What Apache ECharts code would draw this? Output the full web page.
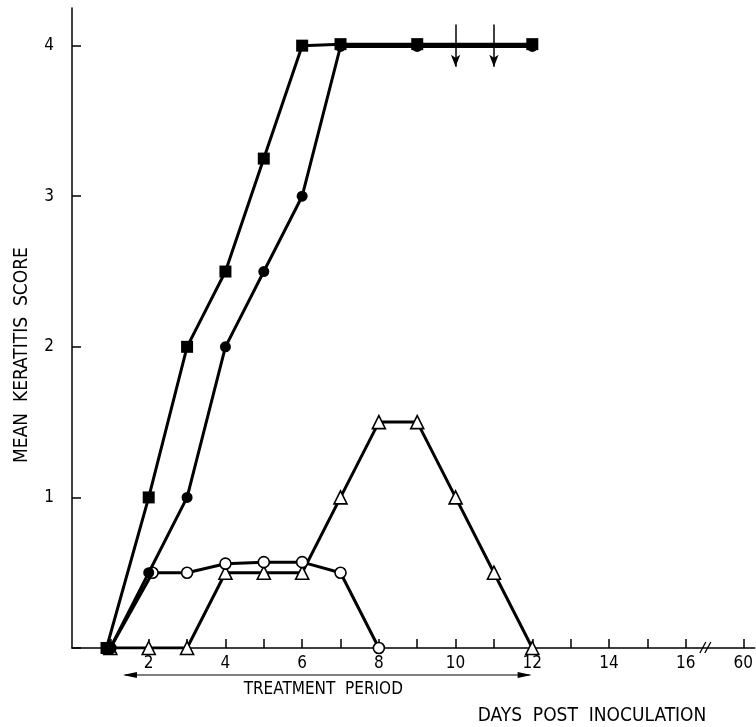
<!DOCTYPE html>
<html lang="en">
<head>
    <meta charset="utf-8">
    <title>Mean keratitis score</title>
    <script type="text/javascript" src="https://cdn.jsdelivr.net/npm/echarts@6/dist/echarts.min.js"></script>
    <style>
        html, body { margin: 0; padding: 0; background: #fff; }
    </style>
</head>
<body>
<div id="main" style="width: 756px;height:727px;"></div>
<script type="text/javascript">
    // data
    var squareDays = [0.9, 2, 3, 4, 5, 6, 7, 9, 12],
        squareScores = [0, 1, 2, 2.5, 3.25, 4, 4.01, 4.01, 4.01];
    var dotDays = [1, 2, 3, 4, 5, 6, 7, 9, 12],
        dotScores = [0, 0.5, 1, 2, 2.5, 3, 3.995, 3.995, 3.995];
    var ringDays = [1, 2.1, 3, 4, 5, 6, 7, 8],
        ringScores = [0, 0.5, 0.5, 0.56, 0.57, 0.57, 0.5, 0];
    var triDays = [1, 2, 3, 4, 5, 6, 7, 8, 9, 10, 11, 12],
        triScores = [0, 0, 0, 0.5, 0.5, 0.5, 1, 1.5, 1.5, 1, 0.5, 0];
    var tickDays = [1, 2, 3, 4, 5, 6, 7, 8, 9, 10, 11, 12, 13, 14, 15, 16, 17.5];
    var labelDays = [2, 4, 6, 8, 10, 12, 14, 16, 17.5];
    var arrowDays = [10, 11];      // downward arrows on the top line
    var treatment = [1.38, 11.93]; // treatment period (days)

    var font = "'Liberation Sans Narrow', 'DejaVu Sans Condensed', 'DejaVu Sans', sans-serif";

    function zip(xs, ys) {
        return xs.map(function (x, i) { return [x, ys[i]]; });
    }

    var myChart = echarts.init(document.getElementById('main'));

    var option = {
        animation: false,
        backgroundColor: '#fff',
        grid: { left: 72, right: 0, top: 8, bottom: 79 },
        xAxis: {
            type: 'value',
            min: 0,
            max: 17.8,
            splitLine: { show: false },
            axisLine: { lineStyle: { color: '#000', width: 1.5 } },
            axisTick: { inside: true, length: 9, customValues: tickDays, lineStyle: { color: '#000', width: 1.5 } },
            axisLabel: {
                customValues: labelDays,
                color: '#000', fontSize: 17, fontFamily: font, margin: 7,
                formatter: function (v) { return v === 17.5 ? '60' : String(v); }
            }
        },
        yAxis: {
            type: 'value',
            min: 0,
            max: 4.25,
            interval: 1,
            splitLine: { show: false },
            axisLine: { show: true, lineStyle: { color: '#000', width: 1.5 } },
            axisTick: { inside: true, length: 9, lineStyle: { color: '#000', width: 1.5 } },
            axisLabel: {
                color: '#000', fontSize: 17, fontFamily: font, margin: 18,
                showMaxLabel: false,
                formatter: function (v) { return v === 0 ? '' : String(v); }
            }
        },
        series: [
            {
                name: 'open triangle',
                type: 'line',
                data: zip(triDays, triScores),
                symbol: 'triangle',
                symbolSize: 13,
                z: 3,
                lineStyle: { color: '#000', width: 3 },
                itemStyle: { color: '#fff', borderColor: '#000', borderWidth: 1.6 }
            },
            {
                name: 'open circle',
                type: 'line',
                data: zip(ringDays, ringScores),
                symbol: 'circle',
                symbolSize: 11,
                z: 4,
                lineStyle: { color: '#000', width: 3 },
                itemStyle: { color: '#fff', borderColor: '#000', borderWidth: 1.6 }
            },
            {
                name: 'filled circle',
                type: 'line',
                data: zip(dotDays, dotScores),
                symbol: 'circle',
                symbolSize: 11,
                z: 5,
                lineStyle: { color: '#000', width: 3 },
                itemStyle: { color: '#000' }
            },
            {
                name: 'filled square',
                type: 'line',
                data: zip(squareDays, squareScores),
                symbol: 'rect',
                symbolSize: 12,
                z: 6,
                lineStyle: { color: '#000', width: 3 },
                itemStyle: { color: '#000' },
                markLine: {
                    silent: true,
                    symbol: ['none', 'arrow'],
                    symbolSize: [7, 12],
                    label: { show: false },
                    lineStyle: { color: '#000', width: 1.5, type: 'solid' },
                    data: arrowDays.map(function (d) {
                        return [{ coord: [d, 4.14] }, { coord: [d, 3.86] }];
                    })
                }
            }
        ]
    };
    myChart.setOption(option);

    // annotations placed through the axes
    var y0 = myChart.convertToPixel({ gridIndex: 0 }, [0, 0])[1];
    var pBreak = myChart.convertToPixel({ gridIndex: 0 }, [16.55, 0]);
    var tA = myChart.convertToPixel({ gridIndex: 0 }, [treatment[0], 0])[0];
    var tB = myChart.convertToPixel({ gridIndex: 0 }, [treatment[1], 0])[0];
    var ty = y0 + 27;

    myChart.setOption({
        graphic: [
            // axis break "//"
            { type: 'line', shape: { x1: pBreak[0] - 7, y1: y0 + 5, x2: pBreak[0] - 1, y2: y0 - 6 }, style: { stroke: '#000', lineWidth: 1.3 } },
            { type: 'line', shape: { x1: pBreak[0] - 2, y1: y0 + 5, x2: pBreak[0] + 4, y2: y0 - 6 }, style: { stroke: '#000', lineWidth: 1.3 } },
            // treatment period arrow
            { type: 'line', shape: { x1: tA, y1: ty, x2: tB, y2: ty }, style: { stroke: '#000', lineWidth: 1.2 } },
            { type: 'polygon', shape: { points: [[tA - 2, ty], [tA + 12, ty - 3], [tA + 12, ty + 3]] }, style: { fill: '#000' } },
            { type: 'polygon', shape: { points: [[tB + 2, ty], [tB - 12, ty - 3], [tB - 12, ty + 3]] }, style: { fill: '#000' } },
            {
                type: 'text', x: (tA + tB) / 2 - 4, y: ty + 15,
                style: { text: 'TREATMENT  PERIOD', fill: '#000', font: '17px ' + font, textAlign: 'center', textVerticalAlign: 'middle' }
            },
            {
                type: 'text', x: 592, y: 716,
                style: { text: 'DAYS  POST  INOCULATION', fill: '#000', font: '19px ' + font, textAlign: 'center', textVerticalAlign: 'middle' }
            },
            {
                type: 'text', x: 22, y: 355, rotation: Math.PI / 2,
                style: { text: 'MEAN  KERATITIS  SCORE', fill: '#000', font: '19px ' + font, textAlign: 'center', textVerticalAlign: 'middle' }
            }
        ]
    });
</script>
</body>
</html>
